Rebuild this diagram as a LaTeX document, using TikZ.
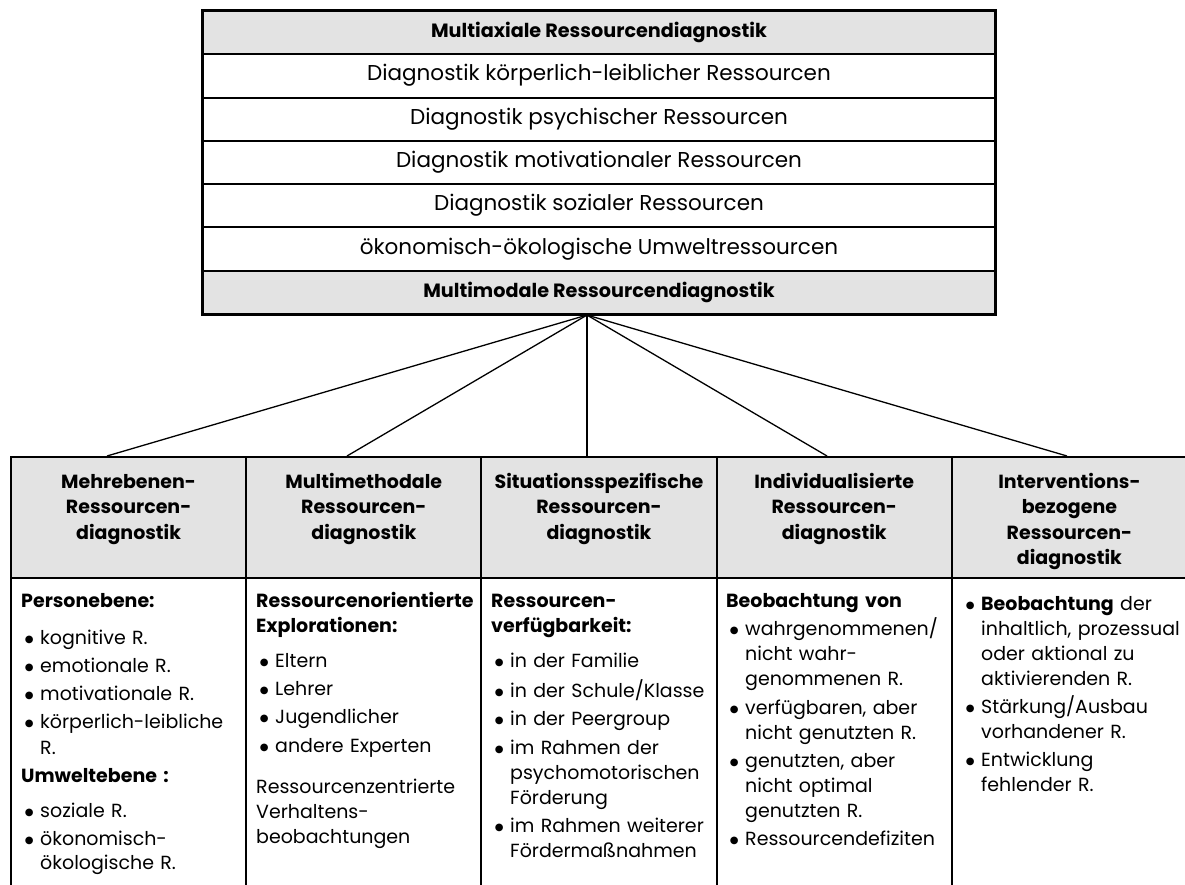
\documentclass[tikz,border=0pt]{standalone}
\usepackage{fontspec}
\setmainfont{Poppins}
\newfontfamily\symfont{DejaVu Sans}
\usetikzlibrary{calc}
\definecolor{cellgray}{HTML}{E3E3E3}
% bullet with hanging indent for list items
\newcommand\bul{\hspace*{8pt}\makebox[0pt][c]{\raisebox{1.6pt}{\symfont\fontsize{10}{10}\selectfont ●}}\hspace*{11pt}}
\newcommand\ind{\hspace*{19pt}}
\begin{document}
\begin{tikzpicture}[x=1pt,y=-1pt,
  rowbox/.style={draw=black, line width=2pt, minimum width=792pt, minimum height=43.29pt,
    inner sep=0pt, font=\fontsize{21.5}{24}\selectfont, text height=14pt, text depth=4pt},
  grayrow/.style={rowbox, fill=cellgray, font=\fontsize{19.2}{24}\selectfont\bfseries},
  hcell/.style={draw=black, line width=2pt, fill=cellgray, minimum width=235.2pt,
    minimum height=121pt, inner sep=0pt},
  bcell/.style={draw=black, line width=2pt, minimum width=235.2pt, minimum height=322pt, inner sep=0pt},
  htext/.style={anchor=base, text width=232pt, align=center, inner sep=0pt,
    font=\fontsize{19}{25.5}\selectfont\bfseries},
  btext/.style={anchor=base west, text width=224pt, align=left, inner sep=0pt,
    font=\fontsize{19}{25}\selectfont},
  link/.style={draw=black, line width=1.3pt}]
\useasboundingbox (0,0) rectangle (1185,884);

% stacked box of resource axes
\node[grayrow] (r1) at (599,32.6)  {Multiaxiale Ressourcendiagnostik};
\node[rowbox]  (r2) at (599,75.9)  {Diagnostik körperlich-leiblicher Ressourcen};
\node[rowbox]  (r3) at (599,119.2) {Diagnostik psychischer Ressourcen};
\node[rowbox]  (r4) at (599,162.5) {Diagnostik motivationaler Ressourcen};
\node[rowbox]  (r5) at (599,205.8) {Diagnostik sozialer Ressourcen};
\node[rowbox]  (r6) at (599,249.1) {ökonomisch-ökologische Umweltressourcen};
\node[grayrow] (r7) at (599,292.4) {Multimodale Ressourcendiagnostik};
\draw[line width=2.6pt] (r1.north west) rectangle (r7.south east);

% header cells
\node[hcell] (h1) at (128.6,517.5) {};
\node[hcell] (h2) at (363.8,517.5) {};
\node[hcell] (h3) at (599.0,517.5) {};
\node[hcell] (h4) at (834.2,517.5) {};
\node[hcell] (h5) at (1069.4,517.5) {};

% body cells
\node[bcell] (b1) at (128.6,739) {};
\node[bcell] (b2) at (363.8,739) {};
\node[bcell] (b3) at (599.0,739) {};
\node[bcell] (b4) at (834.2,739) {};
\node[bcell] (b5) at (1069.4,739) {};

% connectors fanning out from the multimodal row
\coordinate (apex) at ($(r7.south)+(-12,0)$);
\draw[link] (apex) -- ($(h1.north)+(-21.6,0)$);
\draw[link] (apex) -- ($(h2.north)+(-16.8,0)$);
\draw[link] (apex) -- ($(h3.north)+(-12,0)$);
\draw[link] (apex) -- ($(h4.north)+(-7.2,0)$);
\draw[link] (apex) -- ($(h5.north)+(-2.4,0)$);

% header texts
\node[htext] (t1) at (128.6,488) {Mehrebenen-\\Ressourcen-\\diagnostik};
\node[htext] (t2) at (363.8,488) {Multimethodale\\Ressourcen-\\diagnostik};
\node[htext] (t3) at (599.0,488) {Situationsspezifische\\Ressourcen-\\diagnostik};
\node[htext] (t4) at (834.2,488) {Individualisierte\\Ressourcen-\\diagnostik};
\node[htext] (t5) at (1069.4,488) {Interventions-\\bezogene\\Ressourcen-\\diagnostik};

% body texts
\node[btext] (c1) at (21,607) {\textbf{Personebene:}\\[12pt]
  \bul kognitive R.\\[3pt]
  \bul emotionale R.\\[3pt]
  \bul motivationale R.\\[3pt]
  \bul körperlich-leibliche\\[1pt]
  \ind R.\\[3pt]
  \textbf{Umweltebene :}\\[10pt]
  \bul soziale R.\\[3pt]
  \bul ökonomisch-\\[-1pt]
  \ind ökologische R.};

\node[btext] (c2) at (256,607) {\textbf{Ressourcenorientierte}\\
  \textbf{Explorationen:}\\[10pt]
  \bul Eltern\\[3pt]
  \bul Lehrer\\[3pt]
  \bul Jugendlicher\\[4pt]
  \bul andere Experten\\[16pt]
  Ressourcenzentrierte\\
  Verhaltens-\\
  beobachtungen};

\node[btext] (c3) at (491,607) {\textbf{Ressourcen-}\\
  \textbf{verfügbarkeit:}\\[10pt]
  \bul in der Familie\\[5pt]
  \bul in der Schule/Klasse\\[3pt]
  \bul in der Peergroup\\[4pt]
  \bul im Rahmen der\\
  \ind psychomotorischen\\
  \ind Förderung\\[3pt]
  \bul im Rahmen weiterer\\
  \ind Fördermaßnahmen};

\node[btext] (c4) at (726,607) {\textbf{Beobachtung von}\\[3pt]
  \bul wahrgenommenen/\\
  \ind nicht wahr-\\
  \ind genommenen R.\\[4pt]
  \bul verfügbaren, aber\\
  \ind nicht genutzten R.\\[3pt]
  \bul genutzten, aber\\
  \ind nicht optimal\\
  \ind genutzten R.\\[3pt]
  \bul Ressourcendefiziten};

\node[btext] (c5) at (962,610) {\bul \textbf{Beobachtung} der\\
  \ind inhaltlich, prozessual\\
  \ind oder aktional zu\\
  \ind aktivierenden R.\\[3pt]
  \bul Stärkung/Ausbau\\
  \ind vorhandener R.\\[3pt]
  \bul Entwicklung\\
  \ind fehlender R.};
\end{tikzpicture}
\end{document}
